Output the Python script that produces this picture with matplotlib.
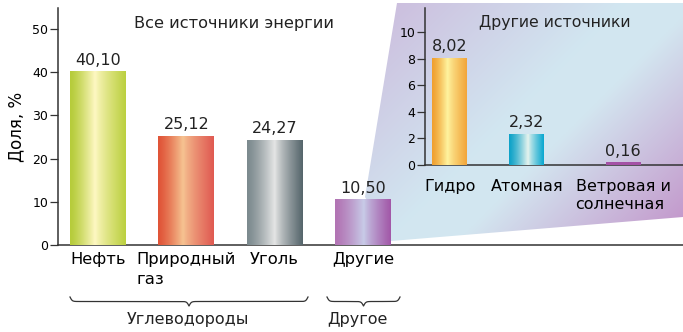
import numpy as np
import matplotlib
matplotlib.use("Agg")
import matplotlib.pyplot as plt
from matplotlib.patches import Polygon
from matplotlib.colors import to_rgb

plt.rcParams['font.family'] = ['DejaVu Sans']
plt.rcParams['text.color'] = '#222222'

# main chart data
cats = ["Нефть", "Природный\nгаз", "Уголь", "Другие"]
vals = [40.10, 25.12, 24.27, 10.50]
yticks = [0, 10, 20, 30, 40, 50]

# inset data
sub_cats = ["Гидро", "Атомная", "Ветровая и\nсолнечная"]
sub_vals = [8.02, 2.32, 0.16]
sub_yticks = [0, 2, 4, 6, 8, 10]

groups = ["Углеводороды", "Другое"]

# bar gradients: (edge left, highlight, edge right, highlight position)
grads = [("#b6cc3a", "#fff8c4", "#bcd040", 0.45),
         ("#e05438", "#f6c492", "#e05a52", 0.45),
         ("#7c8a8e", "#e6e6e6", "#56666c", 0.5),
         ("#b274b4", "#c8cce8", "#a258a8", 0.52)]
sub_grads = [("#f0a030", "#fff4a0", "#f2a63a", 0.45),
             ("#0ea2c8", "#e8f4ee", "#0aa8d0", 0.55),
             ("#a452a6", "#a452a6", "#a452a6", 0.5)]

W, H = 683, 332
fig = plt.figure(figsize=(W / 100, H / 100), dpi=100)


def fr(x0, y0, x1, y1):
    # pixel box (top-left origin) -> figure fraction rect
    return [x0 / W, 1 - y1 / H, (x1 - x0) / W, (y1 - y0) / H]


def grad_img(c):
    a, b, d, p = c
    n = 64
    t = np.linspace(0, 1, n)
    A, B, D = np.array(to_rgb(a)), np.array(to_rgb(b)), np.array(to_rgb(d))
    out = np.zeros((1, n, 3))
    for i, v in enumerate(t):
        if v < p:
            s = (v / p) ** 1.3
            out[0, i] = A + (B - A) * s
        else:
            s = ((v - p) / (1 - p)) ** 0.8
            out[0, i] = B + (D - B) * s
    return out


def fill_bars(ax, bars, gl):
    for r, g in zip(bars, gl):
        x0, w, h = r.get_x(), r.get_width(), r.get_height()
        ax.imshow(grad_img(g), extent=[x0, x0 + w, 0, h], aspect='auto',
                  interpolation='bilinear', zorder=3)


# background layer in pixel coords
bg = fig.add_axes([0, 0, 1, 1], zorder=0)
bg.set_xlim(0, W)
bg.set_ylim(H, 0)
bg.axis('off')

poly = Polygon([(397, 3), (W, 3), (W, 217), (391, 241), (365, 197)],
               closed=True, facecolor='none', edgecolor='none')
bg.add_patch(poly)
gx, gy = np.meshgrid(np.linspace(360, W, 200), np.linspace(0, 245, 120))
tt = gx + gy
stops = [380, 630, 700, 920]
cols = [to_rgb(c) for c in ["#ccbcdd", "#d2e7f1", "#d3e6f0", "#c293c9"]]
img = np.dstack([np.interp(tt, stops, [c[k] for c in cols]) for k in range(3)])
im = bg.imshow(img, extent=[360, W, 245, 0], aspect='auto', interpolation='bilinear')
im.set_clip_path(poly)
bg.set_xlim(0, W)
bg.set_ylim(H, 0)


def brace(x0, x1, y, h):
    L = x1 - x0
    xh = np.linspace(0, L / 2, 200)
    beta = 0.9
    yh = 1 / (1 + np.exp(-beta * (xh - xh[0]))) + 1 / (1 + np.exp(-beta * (xh - xh[-1])))
    xs = np.concatenate([x0 + xh, x0 + L - xh[::-1]])
    ys = np.concatenate([yh, yh[::-1]])
    bg.plot(xs, y + (ys - 0.5) * h, color='#333333', lw=0.9)


brace(70, 308, 297, 9)
brace(327, 400, 297, 9)
bg.text(188, 324, groups[0], fontsize=11.5, ha='center', va='baseline')
bg.text(357, 324, groups[1], fontsize=11.5, ha='center', va='baseline')

# main chart
ax = fig.add_axes(fr(58, 8, W, 245), zorder=1)
ax.patch.set_visible(False)
xs = np.arange(len(vals))
bars = ax.bar(xs, vals, width=0.634, color='none', zorder=2)
fill_bars(ax, bars, grads)
ax.bar_label(bars, labels=[f"{v:.2f}".replace('.', ',') for v in vals],
             padding=3, fontsize=11.5)
ax.set_xlim(-0.453, 6.625)
ax.set_ylim(0, 54.9)
ax.set_yticks(yticks)
ax.set_xticks(xs)
ax.set_xticklabels(cats, fontsize=11.8)
for lbl in ax.get_xticklabels():
    lbl.set_multialignment('left')
    lbl.set_linespacing(1.45)
ax.tick_params(axis='x', length=0, pad=5)
ax.tick_params(axis='y', length=5.5, width=0.9, labelsize=9, pad=1.5, color='#333333')
for s in ['top', 'right']:
    ax.spines[s].set_visible(False)
for s in ['left', 'bottom']:
    ax.spines[s].set_color('#333333')
    ax.spines[s].set_linewidth(1.1)
ax.set_ylabel("Доля, %", fontsize=12, labelpad=5)
ax.text(1.54, 50.3, "Все источники энергии", fontsize=11.6, ha='center', va='baseline')

# inset chart
ax2 = fig.add_axes(fr(425, 8, W, 165), zorder=2)
ax2.patch.set_visible(False)
sx = np.array([0, 1, 2.25])
sbars = ax2.bar(sx, sub_vals, width=0.455, color='none', zorder=2)
fill_bars(ax2, sbars, sub_grads)
ax2.bar_label(sbars, labels=[f"{v:.2f}".replace('.', ',') for v in sub_vals],
              padding=3, fontsize=11.5)
ax2.set_xlim(-0.325, 3.03)
ax2.set_ylim(0, 11.8)
ax2.set_yticks(sub_yticks)
ax2.set_xticks(sx)
ax2.set_xticklabels(sub_cats, fontsize=11.5)
for lbl in ax2.get_xticklabels():
    lbl.set_multialignment('left')
    lbl.set_linespacing(1.3)
ax2.tick_params(axis='x', length=0, pad=10)
ax2.tick_params(axis='y', length=5.5, width=0.9, labelsize=9, pad=1.5, color='#333333')
for s in ['top', 'right']:
    ax2.spines[s].set_visible(False)
for s in ['left', 'bottom']:
    ax2.spines[s].set_color('#333333')
    ax2.spines[s].set_linewidth(1.1)
ax2.text(1.36, 10.35, "Другие источники", fontsize=11.3, ha='center', va='baseline')

fig.savefig("out.png", dpi=100)
